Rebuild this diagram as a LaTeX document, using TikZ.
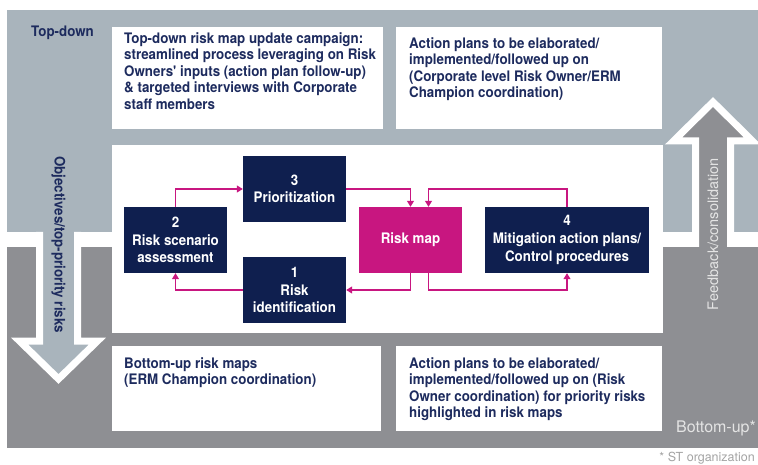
\documentclass[tikz,border=0pt]{standalone}
\usepackage{fontspec}
\setmainfont{TeX Gyre Heros}
\newfontfamily\condfont{TeX Gyre Heros}[FakeStretch=0.92]
\usetikzlibrary{arrows.meta}
\definecolor{topgrey}{HTML}{A9B4BC}
\definecolor{botgrey}{HTML}{8E8F93}
\definecolor{stnavy}{HTML}{0F1F4F}
\definecolor{inknavy}{HTML}{1D2B5E}
\definecolor{stpink}{HTML}{C81680}
\definecolor{paleink}{HTML}{E4E4E4}
\definecolor{noteink}{HTML}{A3A3A3}
\tikzset{
  boxfont/.style={font=\condfont\bfseries\fontsize{14.5}{16.4}\selectfont},
  whitebox/.style={fill=white, anchor=north west, inner sep=0pt},
  boxtext/.style={boxfont, text=inknavy, anchor=north west, inner sep=0pt, align=left},
  stepnode/.style={fill=stnavy, text=white, minimum width=103, minimum height=66,
    inner sep=0pt, align=center, font=\condfont\bfseries\fontsize{14.5}{17.6}\selectfont},
  mapnode/.style={stepnode, fill=stpink},
  flow/.style={stpink, line width=1.2pt, -{Triangle[width=7pt,length=6pt]}},
  bigarrow/.style={white, line width=7pt, line join=miter},
}
\begin{document}
\begin{tikzpicture}[x=1pt,y=-1pt]
  \useasboundingbox (0,0) rectangle (758,465);
  \fill[topgrey] (7,10) rectangle (758,232);
  \fill[botgrey] (7,247) rectangle (758,448);

  \fill[topgrey] (39.5,228) -- (39.5,341) -- (19.5,341) -- (58.5,379)
    -- (97.5,341) -- (77.5,341) -- (77.5,228) -- cycle;
  \draw[bigarrow] (39.5,232) -- (39.5,341) -- (19.5,341) -- (58.5,379)
    -- (97.5,341) -- (77.5,341) -- (77.5,232);
  \fill[botgrey] (695.5,251) -- (695.5,141) -- (673.5,141) -- (713,102)
    -- (752.5,141) -- (730.5,141) -- (730.5,251) -- cycle;
  \draw[bigarrow] (695.5,247) -- (695.5,141) -- (673.5,141) -- (713,102)
    -- (752.5,141) -- (730.5,141) -- (730.5,247);

  \node[whitebox, minimum width=551, minimum height=188] (panel) at (112,145) {};
  \node[whitebox, minimum width=271, minimum height=102] (tdcampaign) at (112,27) {};
  \node[whitebox, minimum width=266, minimum height=102] (tdplans) at (396,27) {};
  \node[whitebox, minimum width=269, minimum height=85] (bumaps) at (112,346) {};
  \node[whitebox, minimum width=266, minimum height=85] (buplans) at (396,346) {};

  \node[boxtext] (tdcampaigntext) at ([shift={(12,5.5)}]tdcampaign.north west)
    {Top-down risk map update campaign:\\streamlined process leveraging on Risk\\
     Owners' inputs (action plan follow-up)\\\& targeted interviews with Corporate\\staff members};
  \node[boxtext] (tdplanstext) at ([shift={(13,10.5)}]tdplans.north west)
    {Action plans to be elaborated/\\implemented/followed up on\\
     (Corporate level Risk Owner/ERM\\Champion coordination)};
  \node[boxtext] (bumapstext) at ([shift={(12,11.5)}]bumaps.north west)
    {Bottom-up risk maps\\(ERM Champion coordination)};
  \node[boxtext] (buplanstext) at ([shift={(13,11.5)}]buplans.north west)
    {Action plans to be elaborated/\\implemented/followed up on (Risk\\
     Owner coordination) for priority risks\\highlighted in risk maps};

  \node[boxfont, text=inknavy, anchor=base west, inner sep=0pt] (toplabel) at (31,37) {Top-down};
  \node[font=\fontsize{16}{18}\selectfont, text=paleink, anchor=base east, inner sep=0pt]
    (botlabel) at (756,432) {Bottom-up*};
  \node[boxfont, text=inknavy, rotate=-90] (objlabel) at (58.5,244.5) {Objectives/top-priority risks};
  \node[font=\fontsize{14.5}{16}\selectfont, text=paleink, rotate=90] (fblabel) at (713,234)
    {Feedback/consolidation};
  \node[font=\fontsize{12.5}{14}\selectfont, text=noteink, anchor=base east, inner sep=0pt]
    (stnote) at (755,461) {* ST organization};

  \node[stepnode] (scen) at (175.5,240) {2\\Risk scenario\\assessment};
  \node[stepnode] (prio) at (294.5,189) {3\\Prioritization};
  \node[stepnode] (ident) at (294.5,290) {1\\Risk\\identification};
  \node[mapnode] (riskmap) at (410.5,240) {Risk map};
  \node[stepnode, minimum width=164] (mitig) at (567,240) {4\\Mitigation action plans/\\Control procedures};

  \begin{scope}[flow]
    \draw (scen.north) |- (prio.west);
    \draw (prio.east) -| (riskmap.north);
    \draw (mitig.north) -- (mitig.north |- prio.east) -| ([xshift=18pt]riskmap.north);
    \draw (riskmap.south) |- (ident.east);
    \draw ([xshift=18pt]riskmap.south) -- ([xshift=18pt]riskmap.south |- ident.east) -| (mitig.south);
    \draw (ident.west) -| (scen.south);
  \end{scope}
\end{tikzpicture}
\end{document}
